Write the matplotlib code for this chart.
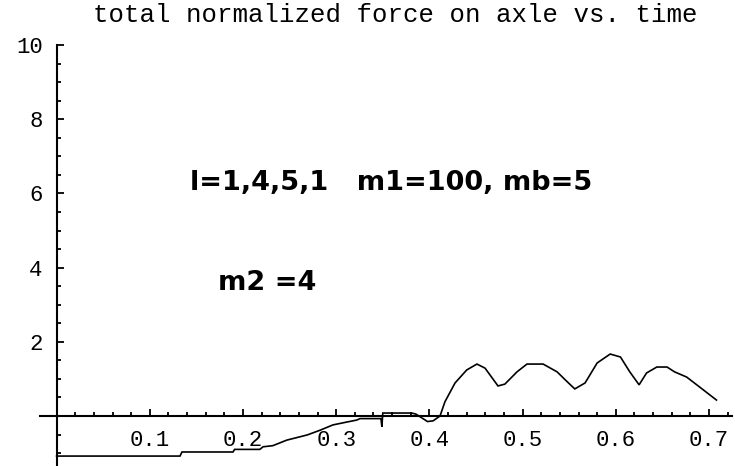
import matplotlib
matplotlib.use("Agg")
import matplotlib.pyplot as plt
from matplotlib.ticker import FixedLocator

# data
t = [0.0, 0.1324, 0.1345, 0.1893, 0.191, 0.218, 0.2215, 0.232, 0.247, 0.269,
     0.283, 0.2965, 0.312, 0.322, 0.3256, 0.348, 0.349, 0.350, 0.381, 0.3856,
     0.398, 0.404, 0.4114, 0.4167, 0.4275, 0.440, 0.451, 0.4597, 0.4736, 0.481,
     0.494, 0.5047, 0.522, 0.537, 0.548, 0.556, 0.567, 0.580, 0.594, 0.605,
     0.615, 0.625, 0.633, 0.644, 0.655, 0.663, 0.676, 0.690, 0.708]
force = [-1.08, -1.08, -0.97, -0.97, -0.90, -0.90, -0.83, -0.80, -0.65, -0.51,
         -0.38, -0.24, -0.16, -0.11, -0.07, -0.07, -0.29, 0.08, 0.08, 0.05,
         -0.15, -0.13, 0.0, 0.385, 0.89, 1.24, 1.40, 1.29, 0.81, 0.86,
         1.19, 1.40, 1.40, 1.19, 0.92, 0.73, 0.89, 1.43, 1.67, 1.59,
         1.19, 0.84, 1.16, 1.32, 1.32, 1.19, 1.05, 0.78, 0.43]

x_major = [0.1, 0.2, 0.3, 0.4, 0.5, 0.6, 0.7]
x_labels = ["0.1", "0.2", "0.3", "0.4", "0.5", "0.6", "0.7"]
x_minor = [0.02, 0.04, 0.06, 0.08, 0.12, 0.14, 0.16, 0.18, 0.22, 0.24, 0.26, 0.28,
           0.32, 0.34, 0.36, 0.38, 0.42, 0.44, 0.46, 0.48, 0.52, 0.54, 0.56, 0.58,
           0.62, 0.64, 0.66, 0.68, 0.72]
y_major = [2, 4, 6, 8, 10]
y_labels = ["2", "4", "6", "8", "10"]
y_minor = [-1.0, -0.5, 0.5, 1, 1.5, 2.5, 3, 3.5, 4.5, 5, 5.5,
           6.5, 7, 7.5, 8.5, 9, 9.5]

title = "total normalized force on axle vs. time"
note1 = "l=1,4,5,1   m1=100, mb=5"
note2 = "m2 =4"

W, H = 735, 466
fig = plt.figure(figsize=(W / 100, H / 100), dpi=100)
ax = fig.add_axes([0, 0, 1, 1])
ax.patch.set_alpha(0)

# pixel mapping: x=0 at px 56.6, 932 px per unit; y=0 at py 416, 37.1 px per unit
x0px, xs = 56.6, 932.0
y0py, ys = 416.0, 37.1
ax.set_xlim(-x0px / xs, (W - x0px) / xs)
ax.set_ylim(-(H - y0py) / ys, y0py / ys)

ax.plot(t, force, color="black", lw=1.2, solid_joinstyle="miter")

for s in ("top", "right"):
    ax.spines[s].set_visible(False)
ax.spines["left"].set_position(("data", 0))
ax.spines["bottom"].set_position(("data", 0))
ax.spines["left"].set_bounds(-1.5, 10)
ax.spines["bottom"].set_bounds(-0.018, 0.725)
for s in ("left", "bottom"):
    ax.spines[s].set_linewidth(1.5)

ax.xaxis.set_major_locator(FixedLocator(x_major))
ax.set_xticklabels(x_labels)
ax.xaxis.set_minor_locator(FixedLocator(x_minor))
ax.yaxis.set_major_locator(FixedLocator(y_major))
ax.set_yticklabels(y_labels)
ax.yaxis.set_minor_locator(FixedLocator(y_minor))

ax.tick_params(axis="both", which="major", direction="in", length=5, width=1.3,
               labelsize=16, pad=10)
ax.tick_params(axis="both", which="minor", direction="in", length=3, width=1.3)
for lab in ax.get_xticklabels() + ax.get_yticklabels():
    lab.set_family("Liberation Mono")

fig.text(395 / W, 1 - 15 / H, title, ha="center", va="center",
         family="Liberation Mono", fontsize=18.5)

ax.text(0.143, 6.28, note1, ha="left", va="center", family="DejaVu Sans",
        fontweight="bold", fontsize=19.5)
ax.text(0.173, 3.58, note2, ha="left", va="center", family="DejaVu Sans",
        fontweight="bold", fontsize=19.5)

fig.savefig("out.png", dpi=100, facecolor="white")
